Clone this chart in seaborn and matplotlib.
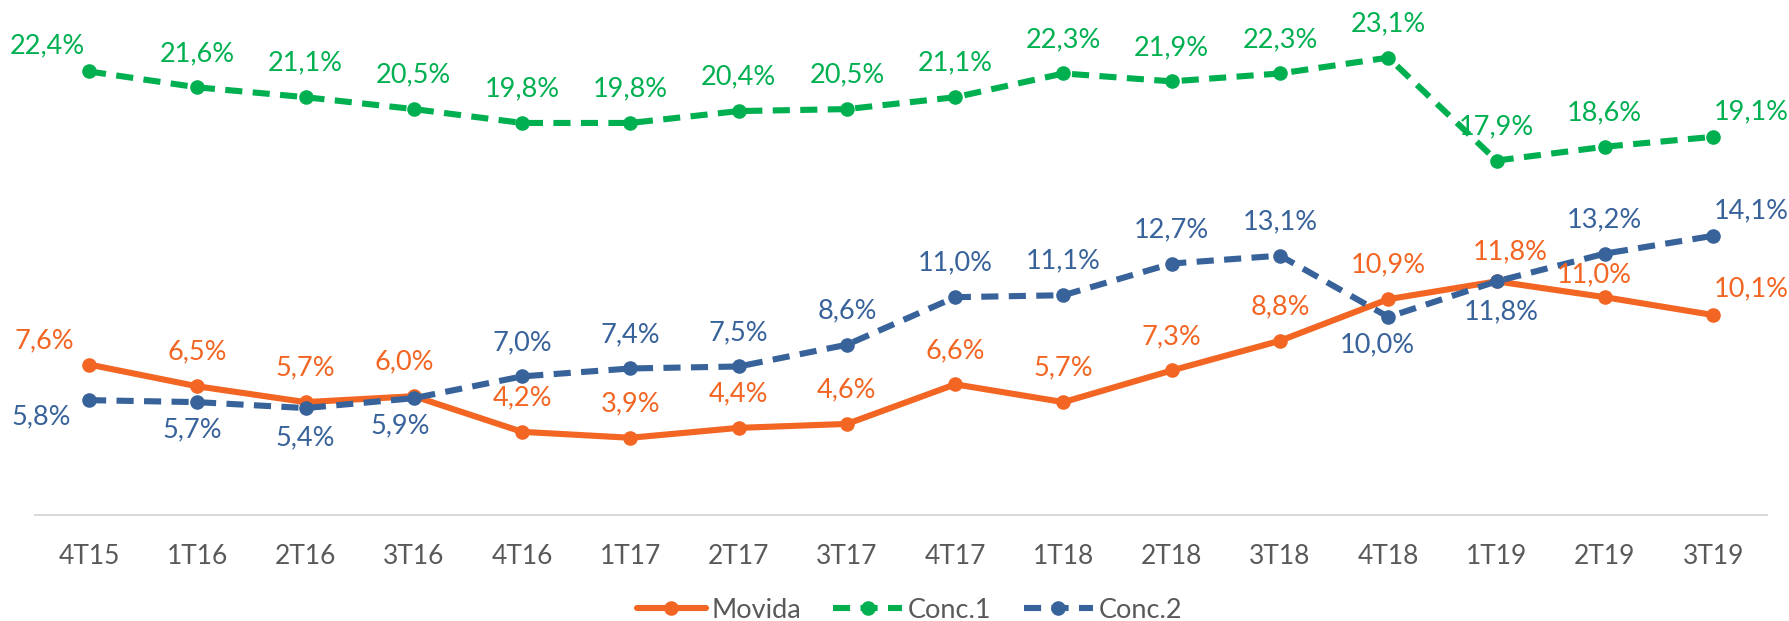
import numpy as np
import pandas as pd
import matplotlib
matplotlib.use("Agg")
import matplotlib.pyplot as plt
from matplotlib.lines import Line2D
import seaborn as sns

# Trimestres e margens (%) por empresa
periodos = ['4T15', '1T16', '2T16', '3T16', '4T16', '1T17', '2T17', '3T17',
            '4T17', '1T18', '2T18', '3T18', '4T18', '1T19', '2T19', '3T19']
movida = [7.6, 6.5, 5.7, 6.0, 4.2, 3.9, 4.4, 4.6, 6.6, 5.7, 7.3, 8.8, 10.9, 11.8, 11.0, 10.1]
conc1 = [22.4, 21.6, 21.1, 20.5, 19.8, 19.8, 20.4, 20.5, 21.1, 22.3, 21.9, 22.3, 23.1, 17.9, 18.6, 19.1]
conc2 = [5.8, 5.7, 5.4, 5.9, 7.0, 7.4, 7.5, 8.6, 11.0, 11.1, 12.7, 13.1, 10.0, 11.8, 13.2, 14.1]
series_nomes = ['Movida', 'Conc.1', 'Conc.2']

cores = {'Movida': '#F26522', 'Conc.1': '#00B050', 'Conc.2': '#38629A'}
tracos = {'Movida': '', 'Conc.1': (2.8, 1.7), 'Conc.2': (2.8, 1.7)}
marcadores = {'Movida': 'o', 'Conc.1': 'o', 'Conc.2': 'o'}

sns.set_style('white')
plt.rcParams['font.family'] = ['Lato', 'DejaVu Sans']

df = pd.DataFrame({
    'periodo': periodos * 3,
    'serie': np.repeat(series_nomes, len(periodos)),
    'valor': movida + conc1 + conc2,
})

fig = plt.figure(figsize=(17.9, 6.21), dpi=100)
ax = fig.add_axes([0.0195, 0.1707, 0.9678, 0.7971])

LW = 4.4
MS = 10.5
FS = 19.5
sns.lineplot(data=df, x='periodo', y='valor', hue='serie', style='serie',
             hue_order=series_nomes, style_order=series_nomes,
             palette=cores, dashes=tracos, markers=marcadores,
             markersize=MS, markeredgewidth=0, linewidth=LW,
             sort=False, legend=False, ax=ax)

# Posição dos rótulos (deslocamento em pixels a partir do ponto)
ACIMA, ABAIXO = 34, -28
desloc = {
    'Movida': {0: (-45, 24), 3: (-10, ACIMA), 13: (14, 30), 14: (-11, 22), 15: (38, 26)},
    'Conc.1': {0: (-42, 26), 15: (38, 25)},
    'Conc.2': {0: (-48, -17), 1: (-5, ABAIXO), 2: (0, ABAIXO - 2), 3: (-14, ABAIXO),
               12: (-11, ABAIXO), 13: (5, ABAIXO - 2), 15: (38, 25)},
}
valores = {'Movida': movida, 'Conc.1': conc1, 'Conc.2': conc2}
for nome in series_nomes:
    for i, v in enumerate(valores[nome]):
        dx, dy = desloc[nome].get(i, (0, ACIMA))
        ax.annotate(f"{v:.1f}%".replace('.', ','), xy=(i, v), xytext=(dx, dy),
                    textcoords='offset pixels', ha='center', va='center',
                    fontsize=FS, color=cores[nome])

ax.set_xlim(-0.5, len(periodos) - 0.5)
ax.set_ylim(0, 25)
ax.set_yticks([])
ax.set_xlabel('')
ax.set_ylabel('')
for lado in ['left', 'top', 'right']:
    ax.spines[lado].set_visible(False)
ax.spines['bottom'].set_color('#D9D9D9')
ax.spines['bottom'].set_linewidth(1.4)
ax.tick_params(axis='x', length=0, labelsize=19, labelcolor='#595959', pad=21)

alcas = [Line2D([0], [0], color=cores[n], lw=LW, marker='o', markersize=MS,
                markeredgewidth=0, dashes=tracos[n] if tracos[n] else (None, None))
         for n in series_nomes]
alcas[0].set_linestyle('-')
fig.legend(alcas, series_nomes, loc='center', bbox_to_anchor=(0.508, 0.017),
           ncol=3, frameon=False, fontsize=FS, labelcolor='#595959',
           handlelength=2.55, handletextpad=0.2, columnspacing=1.2,
           borderaxespad=0, borderpad=0)

fig.savefig('out.png', dpi=100)
